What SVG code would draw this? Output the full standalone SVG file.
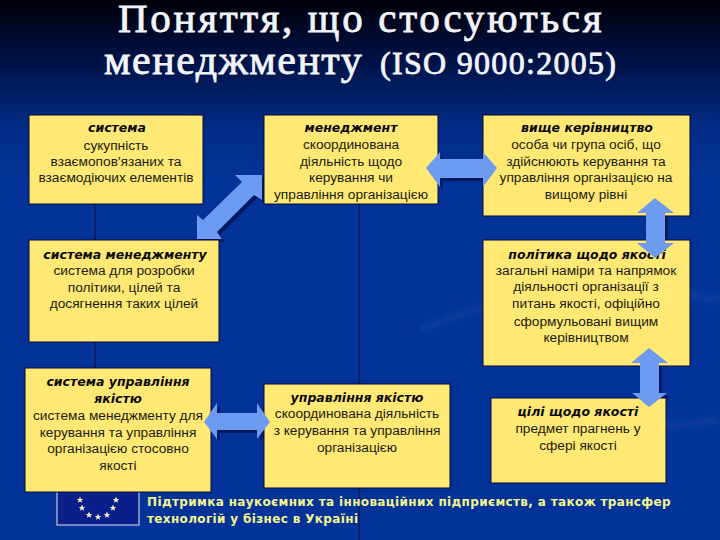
<svg xmlns="http://www.w3.org/2000/svg" width="720" height="540" viewBox="0 0 720 540">
<defs>
<linearGradient id="bg" x1="0" y1="0" x2="0" y2="1"><stop offset="0" stop-color="#000008"/><stop offset="0.1" stop-color="#001040"/><stop offset="0.24" stop-color="#022c88"/><stop offset="0.34" stop-color="#033399"/><stop offset="1" stop-color="#033399"/></linearGradient>
<filter id="soft" x="-10%" y="-10%" width="120%" height="120%"><feGaussianBlur stdDeviation="3"/></filter>
<g id="s"><polygon points="0,-3.4 1,-1 3.3,-1 1.4,.5 2.1,2.8 0,1.4 -2.1,2.8 -1.4,.5 -3.3,-1 -1,-1" fill="#f4f0c0"/></g>
</defs>
<style>
.box{fill:#ffe873;stroke:#050a30;stroke-width:1}
.arr{fill:#6d9bf1}
.sh{fill:#021a60}
.t{font-family:"Liberation Sans",sans-serif;font-size:13.7px;fill:#1c1c14;text-anchor:middle}
.h{font-family:"DejaVu Sans",sans-serif;font-size:12.5px;font-weight:bold;font-style:italic;fill:#0a0a0a;text-anchor:middle}
.ti{font-family:"Liberation Serif",serif;font-weight:normal;fill:#f2f4fa;stroke:#f2f4fa;stroke-width:.8}
.f{font-family:"DejaVu Sans",sans-serif;font-size:12px;font-weight:bold;fill:#f6f58c;letter-spacing:.36px}
.c{stroke:#04103a;stroke-width:1;fill:none}
</style>
<rect width="720" height="540" fill="url(#bg)"/>
<g id="swoosh" filter="url(#soft)" fill="none" stroke="#083a9f" stroke-width="8">
<path d="M420 330Q560 270 720 300"/><path d="M540 440Q640 430 720 420"/>
</g>
<g id="title">
<text class="ti" x="118" y="32" font-size="41" letter-spacing="2.7">Поняття, що стосуються</text>
<text class="ti" x="104" y="74" font-size="42" letter-spacing="1.5">менеджменту</text>
<text class="ti" x="380" y="74" font-size="32" textLength="236">(ISO 9000:2005)</text>
</g>
<g id="connectors">
<path class="c" d="M95 204V240M95 342V368M359 204V384M359 488V540"/>
<g transform="translate(3 3)" class="sh">
<polygon points="262,175 262,200 254,195 217,232 222,239 197,239 197,215 203,220 242,182 235,175"/>
<polygon points="426,168 440,152 440,159 483,159 483,152 497,168 483,187 483,178 440,178 440,187"/>
<polygon points="655,198 674,213 665,213 665,243 674,243 655,258 637,243 646,243 646,213 637,213"/>
<polygon points="649,348 668,363 659,363 659,393 667,393 649,407 632,393 640,393 640,363 631,363"/>
<polygon points="204,422 217,403 217,413 257,413 257,403 270,422 257,439 257,430 217,430 217,439"/>
</g>
</g>
<g id="eu-flag">
<rect x="57" y="480" width="82" height="45" fill="#0a1f8c" stroke="#e8e8e8" stroke-width="1"/>
<use href="#s" x="80" y="500"/><use href="#s" x="82" y="508"/><use href="#s" x="89" y="515"/><use href="#s" x="98" y="517"/><use href="#s" x="107" y="515"/><use href="#s" x="113" y="508"/><use href="#s" x="116" y="500"/>
</g>
<g id="n1"><rect class="box" x="29" y="115" width="174" height="89"/><text class="h" x="117" y="132">система</text><text class="t" x="116" y="150">сукупність</text><text class="t" x="116" y="166">взаємопов'язаних та</text><text class="t" x="116" y="182">взаємодіючих елементів</text></g>
<g id="n2"><rect class="box" x="264" y="115" width="174" height="89"/><text class="h" x="351" y="132">менеджмент</text><text class="t" x="351" y="149">скоординована</text><text class="t" x="351" y="166">діяльність щодо</text><text class="t" x="351" y="182">керування чи</text><text class="t" x="351" y="199">управління організацією</text></g>
<g id="n3"><rect class="box" x="483" y="115" width="207" height="101"/><text class="h" x="587" y="132">вище керівництво</text><text class="t" x="586" y="149">особа чи група осіб, що</text><text class="t" x="586" y="166">здійснюють керування та</text><text class="t" x="586" y="182">управління організацією на</text><text class="t" x="586" y="199">вищому рівні</text></g>
<g id="n4"><rect class="box" x="29" y="240" width="190" height="102"/><text class="h" x="125" y="259">система менеджменту</text><text class="t" x="124" y="275">система для розробки</text><text class="t" x="124" y="292">політики, цілей та</text><text class="t" x="124" y="308">досягнення таких цілей</text></g>
<g id="n5"><rect class="box" x="483" y="240" width="207" height="126"/><text class="h" x="587" y="259">політика щодо якості</text><text class="t" x="586" y="275">загальні наміри та напрямок</text><text class="t" x="586" y="291">діяльності організації з</text><text class="t" x="586" y="308">питань якості, офіційно</text><text class="t" x="586" y="326">сформульовані вищим</text><text class="t" x="586" y="342">керівництвом</text></g>
<g id="n6"><rect class="box" x="25" y="368" width="186" height="124"/><text class="h" x="118" y="386">система управління</text><text class="h" x="118" y="403">якістю</text><text class="t" x="118" y="420">система менеджменту для</text><text class="t" x="118" y="437">керування та управління</text><text class="t" x="118" y="453">організацією стосовно</text><text class="t" x="118" y="470">якості</text></g>
<g id="n7"><rect class="box" x="264" y="384" width="186" height="104"/><text class="h" x="357" y="402">управління якістю</text><text class="t" x="357" y="418">скоординована діяльність</text><text class="t" x="357" y="435">з керування та управління</text><text class="t" x="357" y="452">організацією</text></g>
<g id="n8"><rect class="box" x="491" y="398" width="175" height="85"/><text class="h" x="578" y="416">цілі  щодо якості</text><text class="t" x="578" y="433">предмет прагнень у</text><text class="t" x="578" y="450">сфері якості</text></g>
<g id="arrows" class="arr">
<polygon points="262,175 262,200 254,195 217,232 222,239 197,239 197,215 203,220 242,182 235,175"/>
<polygon points="426,168 440,152 440,159 483,159 483,152 497,168 483,187 483,178 440,178 440,187"/>
<polygon points="655,198 674,213 665,213 665,243 674,243 655,258 637,243 646,243 646,213 637,213"/>
<polygon points="649,348 668,363 659,363 659,393 667,393 649,407 632,393 640,393 640,363 631,363"/>
<polygon points="204,422 217,403 217,413 257,413 257,403 270,422 257,439 257,430 217,430 217,439"/>
</g>
<g id="footer"><text class="f" x="147" y="506">Підтримка наукоємних та інноваційних підприємств, а також трансфер</text><text class="f" x="147" y="523">технологій у бізнес в Україні</text></g>
</svg>
